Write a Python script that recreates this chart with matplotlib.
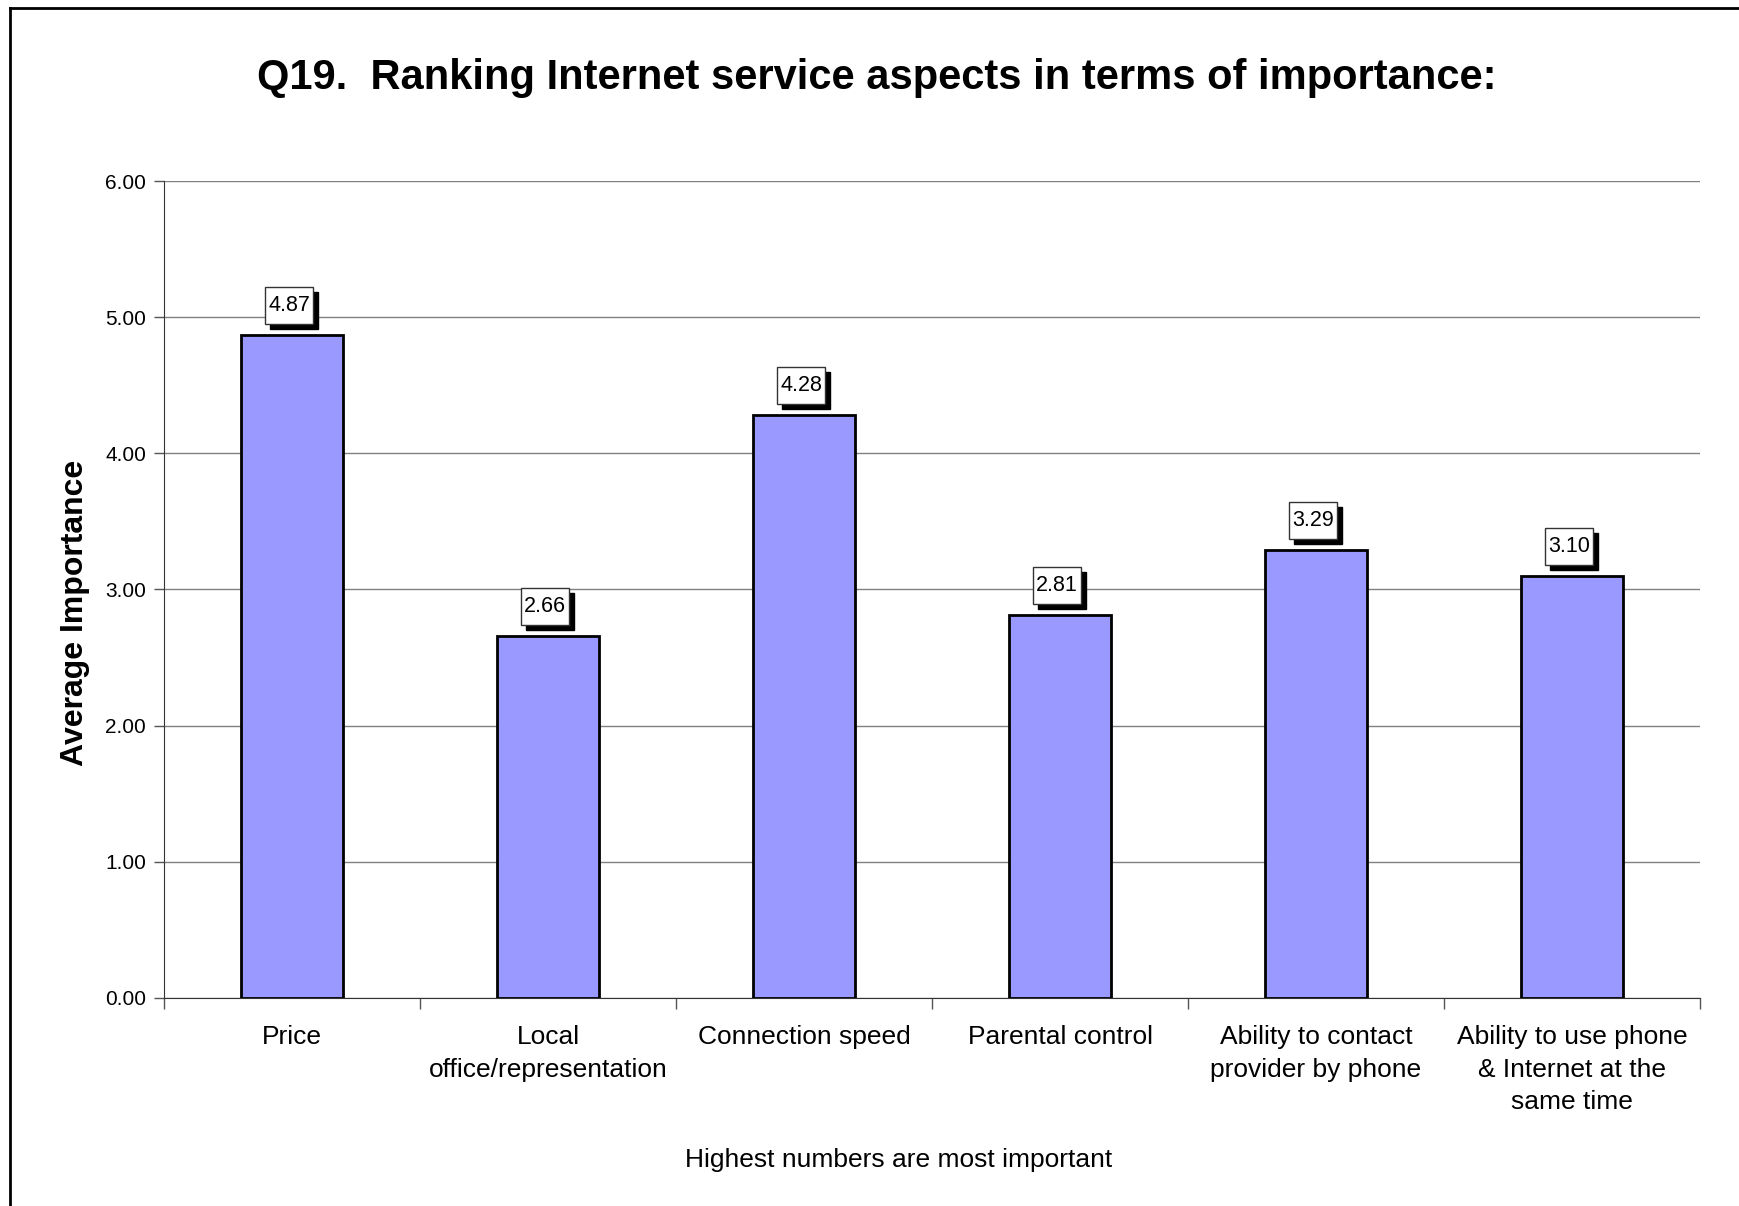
import matplotlib.pyplot as plt
import matplotlib.transforms as mtransforms
from matplotlib.patches import Rectangle
import numpy as np

plt.rcParams['font.family'] = ['Liberation Sans', 'DejaVu Sans']

categories = ['Price', 'Local\noffice/representation', 'Connection speed',
              'Parental control', 'Ability to contact\nprovider by phone',
              'Ability to use phone\n& Internet at the\nsame time']
scores = [4.87, 2.66, 4.28, 2.81, 3.29, 3.10]
yticks = [0, 1, 2, 3, 4, 5, 6]

fig = plt.figure(figsize=(17.39, 12.06), dpi=100)
ax = fig.add_axes([0.0943, 0.1725, 0.8833, 0.6774])

x = np.arange(len(categories))
ax.bar(x, scores, width=0.4, color='#9999FF', edgecolor='black', linewidth=2, zorder=3)

ax.set_xlim(-0.5, len(categories) - 0.5)
ax.set_ylim(0, 6)
ax.set_yticks(yticks)
ax.set_yticklabels([f'{v:.2f}' for v in yticks], fontsize=15)
ax.yaxis.grid(True, color='#808080', linewidth=1, zorder=0)
ax.set_axisbelow(True)

# ticks sit on the category boundaries, labels are drawn as plain text underneath
ax.set_xticks(np.arange(len(categories) + 1) - 0.5)
ax.set_xticklabels([])
ax.tick_params(axis='x', direction='out', length=8, width=1, color='#555555')
ax.tick_params(axis='y', direction='out', length=7, width=1, color='#555555', pad=6)
for xi, name in zip(x, categories):
    ax.annotate(name, xy=(xi, 0), xycoords=('data', 'axes fraction'),
                xytext=(0, -19.5), textcoords='offset points',
                ha='center', va='top', fontsize=19, linespacing=1.45)

for side in ('top', 'right'):
    ax.spines[side].set_visible(False)
ax.spines['left'].set_color('#333333')
ax.spines['bottom'].set_color('#333333')

# value labels: white box with a black drop shadow, sized in inches above each bar top
box_w, box_h, gap, shadow = 0.48, 0.37, 0.11, 0.05
for xi, v in zip(x, scores):
    trans = fig.dpi_scale_trans + mtransforms.ScaledTranslation(xi, v, ax.transData)
    ax.add_patch(Rectangle((-0.03 - box_w / 2 + shadow, gap - shadow), box_w, box_h,
                           transform=trans, fc='black', ec='black', lw=1, zorder=4, clip_on=False))
    ax.add_patch(Rectangle((-0.03 - box_w / 2, gap), box_w, box_h,
                           transform=trans, fc='white', ec='#333333', lw=1, zorder=5, clip_on=False))
    ax.text(-0.03, gap + box_h / 2, f'{v:.2f}', transform=trans, ha='center', va='center',
            fontsize=15.5, zorder=6, clip_on=False)

ax.set_ylabel('Average Importance', fontsize=23, fontweight='bold')
ax.yaxis.set_label_coords(-0.048, 0.471)
fig.text(0.504, 0.935, 'Q19.  Ranking Internet service aspects in terms of importance:',
         ha='center', va='center', fontsize=30, fontweight='bold')
fig.text(0.517, 0.038, 'Highest numbers are most important', ha='center', va='center', fontsize=19)

# outer frame along the top and left edges
fig.add_artist(plt.Line2D([0.0055, 1.0], [0.9935, 0.9935], transform=fig.transFigure, color='black', lw=2))
fig.add_artist(plt.Line2D([0.0055, 0.0055], [0.0, 0.9935], transform=fig.transFigure, color='black', lw=2))

fig.savefig('out.png', dpi=100)
